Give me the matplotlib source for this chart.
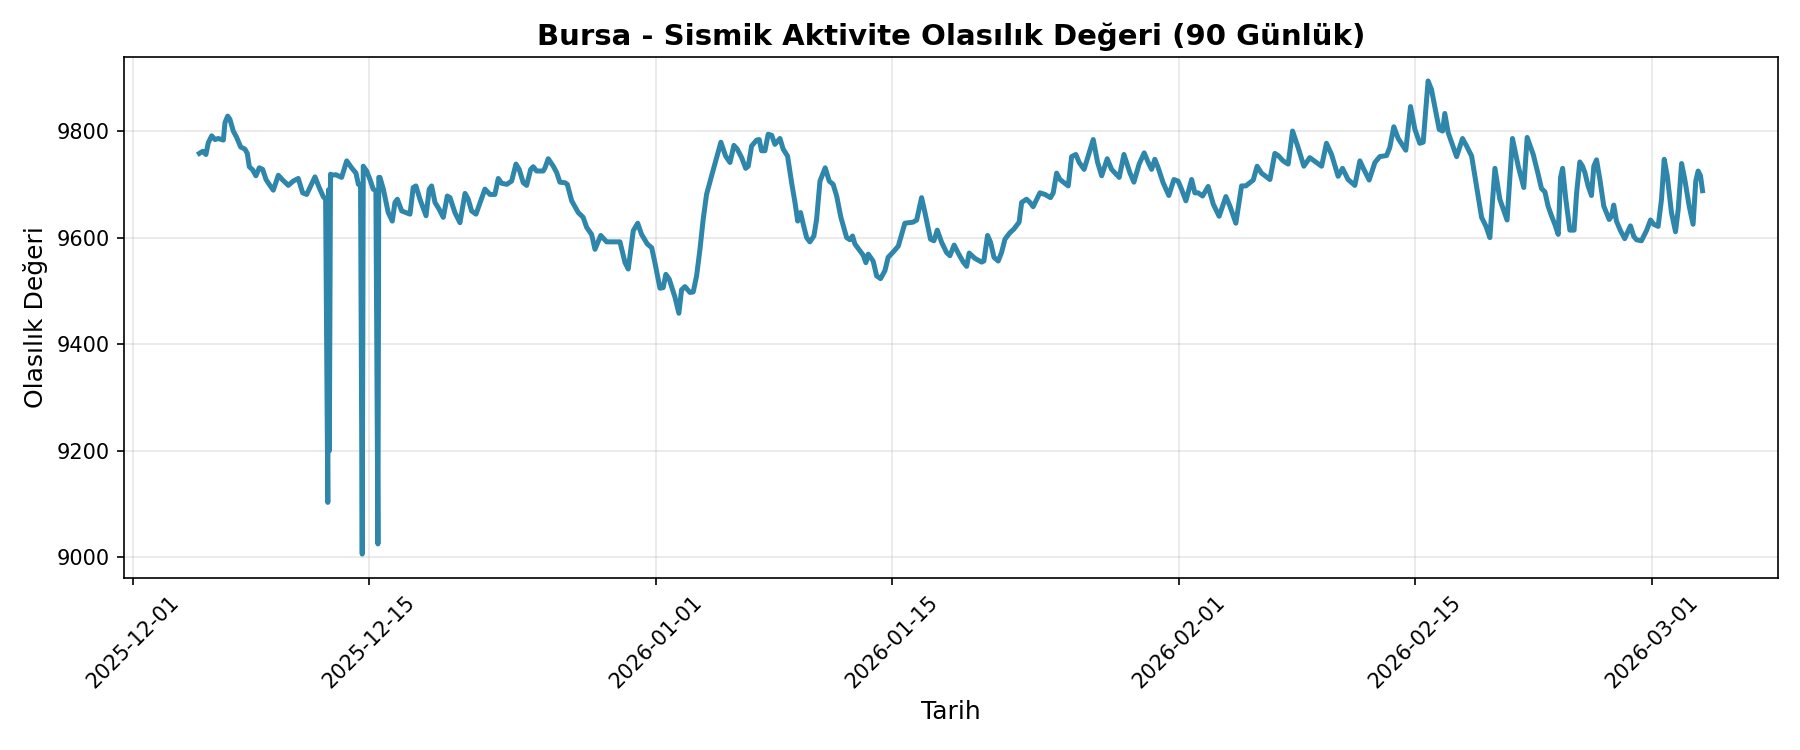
import numpy as np
import pandas as pd
import matplotlib
matplotlib.use("Agg")
import matplotlib.pyplot as plt
import matplotlib.dates as mdates

#values
#days since 2025-12-01 00:00 and the probability value at that moment
start_date = "2025-12-01"

days = [
    3.95, 4.15, 4.34, 4.48, 4.68, 4.88, 5.07, 5.37, 5.47, 5.63, 5.76, 5.96, 6.16, 6.40, 6.65, 6.79,
    6.91, 7.11, 7.30, 7.50, 7.70, 7.90, 8.13, 8.33, 8.63, 8.89, 9.22, 9.51, 9.81, 10.07, 10.31, 10.55,
    10.80, 11.05, 11.29, 11.43, 11.56, 11.61, 11.65, 11.72, 11.79, 12.04, 12.38, 12.68, 12.97, 13.23,
    13.37, 13.50, 13.60, 13.66, 13.86, 14.06, 14.25, 14.41, 14.53, 14.58, 14.65, 14.85, 15.14, 15.38,
    15.54, 15.68, 15.94, 16.19, 16.43, 16.62, 16.78, 17.02, 17.38, 17.57, 17.71, 17.91, 18.16, 18.40,
    18.64, 18.80, 19.09, 19.39, 19.69, 19.88, 20.08, 20.34, 20.62, 20.87, 21.17, 21.46, 21.66, 21.86,
    22.16, 22.45, 22.71, 22.90, 23.14, 23.34, 23.58, 23.73, 23.93, 24.32, 24.43, 24.62, 24.92, 25.12,
    25.31, 25.61, 25.75, 26.01, 26.40, 26.69, 26.90, 27.19, 27.39, 27.73, 28.08, 28.87, 29.17, 29.36,
    29.66, 29.92, 30.15, 30.49, 30.75, 30.94, 31.24, 31.43, 31.59, 31.79, 32.13, 32.36, 32.52, 32.72,
    33.02, 33.21, 33.41, 33.61, 33.80, 34.00, 34.30, 34.60, 34.85, 35.13, 35.39, 35.62, 35.82, 36.08,
    36.32, 36.47, 36.67, 36.97, 37.12, 37.26, 37.46, 37.65, 37.86, 38.05, 38.35, 38.54, 38.80, 39.04,
    39.24, 39.40, 39.57, 39.73, 39.93, 40.12, 40.36, 40.52, 40.72, 40.88, 41.03, 41.27, 41.50, 41.71,
    41.96, 42.30, 42.49, 42.65, 42.79, 43.09, 43.28, 43.44, 43.58, 43.87, 44.08, 44.31, 44.57, 44.76,
    45.06, 45.36, 45.56, 45.75, 46.24, 46.45, 46.74, 46.94, 47.27, 47.47, 47.67, 47.93, 48.22, 48.42,
    48.67, 48.91, 49.21, 49.41, 49.56, 49.90, 50.30, 50.43, 50.65, 50.83, 51.03, 51.28, 51.48, 51.68,
    51.97, 52.21, 52.52, 52.67, 52.96, 53.16, 53.35, 53.75, 54.05, 54.38, 54.54, 54.74, 54.94, 55.43,
    55.63, 55.88, 56.08, 56.37, 56.91, 57.17, 57.41, 57.74, 58.00, 58.45, 58.73, 59.08, 59.32, 59.63,
    59.93, 60.17, 60.37, 60.56, 60.76, 61.05, 61.39, 61.69, 61.94, 62.14, 62.40, 62.74, 62.93, 63.13,
    63.39, 63.72, 64.02, 64.37, 64.77, 65.01, 65.36, 65.70, 65.95, 66.39, 66.62, 66.88, 67.38, 67.67,
    67.87, 68.16, 68.46, 68.72, 69.05, 69.39, 69.74, 70.14, 70.44, 70.73, 71.03, 71.42, 71.68, 72.01,
    72.41, 72.71, 72.90, 73.26, 73.60, 73.89, 74.29, 74.48, 74.72, 74.98, 75.43, 75.71, 75.97, 76.26,
    76.46, 76.75, 76.95, 77.41, 77.61, 77.74, 77.94, 78.44, 78.79, 79.03, 79.33, 79.92, 80.17, 80.41,
    80.71, 81.00, 81.43, 81.75, 82.09, 82.42, 82.62, 82.98, 83.27, 83.47, 83.67, 83.86, 84.06, 84.26,
    84.46, 84.60, 84.72, 84.91, 85.15, 85.40, 85.55, 85.74, 85.90, 86.04, 86.23, 86.43, 86.57, 86.73,
    86.93, 87.16, 87.48, 87.62, 87.75, 87.91, 88.15, 88.40, 88.54, 88.74, 88.94, 89.10, 89.39, 89.69,
    89.93, 90.12, 90.38, 90.58, 90.74, 90.92, 91.17, 91.41, 91.57, 91.77, 91.96, 92.22, 92.45, 92.61,
    92.75, 92.89, 93.01,
]

values = [
    9758, 9762, 9756, 9778, 9791, 9784, 9786, 9783, 9816, 9828, 9822, 9800, 9788, 9770, 9766, 9758,
    9733, 9727, 9716, 9731, 9728, 9709, 9698, 9689, 9717, 9708, 9698, 9706, 9711, 9684, 9681, 9697,
    9714, 9694, 9677, 9672, 9103, 9690, 9200, 9719, 9717, 9718, 9713, 9744, 9731, 9721,
    9700, 9698, 9006, 9734, 9725, 9709, 9691, 9688, 9025, 9713, 9713, 9691, 9647, 9631,
    9666, 9672, 9650, 9647, 9644, 9694, 9697, 9672, 9641, 9691, 9697, 9666, 9653, 9638,
    9678, 9675, 9647, 9628, 9683, 9672, 9650, 9644, 9669, 9691, 9681, 9681, 9711, 9702,
    9700, 9706, 9738, 9728, 9703, 9698, 9728, 9733, 9725, 9725, 9731, 9748, 9734, 9722,
    9704, 9703, 9700, 9669, 9647, 9638, 9619, 9606, 9578, 9604, 9592, 9592, 9553, 9541,
    9613, 9627, 9606, 9588, 9581, 9553, 9505, 9506, 9531, 9522, 9488, 9458, 9502, 9508,
    9497, 9498, 9528, 9578, 9634, 9681, 9716, 9750, 9779, 9753, 9741, 9773, 9766, 9750,
    9730, 9734, 9772, 9783, 9784, 9763, 9763, 9794, 9792, 9775, 9786, 9766, 9753, 9703,
    9666, 9631, 9647, 9625, 9600, 9592, 9603, 9634, 9706, 9719, 9731, 9706, 9700, 9678,
    9638, 9600, 9596, 9603, 9588, 9575, 9567, 9553, 9569, 9556, 9528, 9523, 9538, 9563,
    9573, 9584, 9606, 9627, 9629, 9633, 9675, 9647, 9597, 9594, 9614, 9591, 9572, 9566,
    9586, 9571, 9554, 9546, 9571, 9561, 9554, 9556, 9604, 9591, 9563, 9556, 9572, 9597,
    9609, 9616, 9629, 9666, 9672, 9666, 9658, 9684, 9681, 9675, 9684, 9721, 9709, 9697,
    9752, 9756, 9741, 9728, 9784, 9741, 9716, 9748, 9728, 9713, 9756, 9722, 9704, 9738,
    9759, 9741, 9728, 9747, 9731, 9703, 9679, 9709, 9706, 9691, 9669, 9709, 9684, 9684,
    9678, 9696, 9663, 9640, 9677, 9659, 9627, 9697, 9697, 9708, 9734, 9721, 9709, 9758,
    9754, 9744, 9738, 9800, 9769, 9734, 9750, 9741, 9734, 9777, 9756, 9715, 9730, 9709,
    9698, 9744, 9731, 9708, 9741, 9752, 9754, 9769, 9808, 9786, 9764, 9846, 9803, 9777,
    9779, 9894, 9878, 9803, 9800, 9833, 9797, 9752, 9786, 9772, 9753, 9638, 9622, 9600,
    9730, 9672, 9633, 9786, 9734, 9694, 9788, 9756, 9719, 9692, 9686, 9659, 9641, 9625,
    9606, 9713, 9730, 9672, 9614, 9614, 9684, 9742, 9734, 9722, 9697, 9679, 9734, 9746,
    9709, 9659, 9634, 9640, 9661, 9631, 9613, 9598, 9608, 9622, 9602, 9596, 9594, 9613,
    9633, 9625, 9621, 9672, 9747, 9716, 9647, 9611, 9653, 9739, 9709, 9659, 9625, 9706,
    9725, 9716, 9688,
]

city = "Bursa"
title = f"{city} - Sismik Aktivite Olasılık Değeri (90 Günlük)"

#build the time index
dates = pd.Timestamp(start_date) + pd.to_timedelta(np.array(days), unit="D")
df = pd.DataFrame({"date": dates, "value": values})

fig, ax = plt.subplots(figsize=(12, 5), dpi=150)
ax.plot(df["date"], df["value"], color="#2E86AB", linewidth=2.4)

ax.set_title(title, fontsize=14, fontweight="bold")
ax.set_xlabel("Tarih", fontsize=12)
ax.set_ylabel("Olasılık Değeri", fontsize=12)
ax.grid(True, alpha=0.3)

ax.xaxis.set_major_locator(mdates.AutoDateLocator())
ax.xaxis.set_major_formatter(mdates.DateFormatter("%Y-%m-%d"))
plt.xticks(rotation=45)

fig.subplots_adjust(left=0.069, right=0.9876, top=0.9236, bottom=0.2297)
plt.savefig("out.png", dpi=150)
plt.close()
print("Saved out.png")
